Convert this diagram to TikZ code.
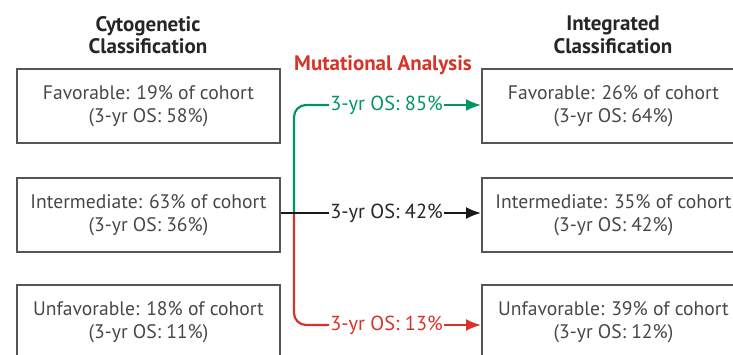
\documentclass[tikz,border=0pt]{standalone}
\usepackage{fontspec}
\setmainfont{PT Sans}
\usetikzlibrary{arrows.meta}
\definecolor{mutgreen}{RGB}{0,150,100}
\definecolor{mutred}{RGB}{214,52,40}
\definecolor{boxgray}{RGB}{85,85,85}
\tikzset{classbox/.style={draw=boxgray,line width=1.8pt,minimum width=263pt,minimum height=74pt,
    inner sep=0pt,align=center,text=black!72,font=\fontsize{19.6}{23}\selectfont},
  oslabel/.style={inner sep=1pt,font=\fontsize{20.3}{22}\selectfont},
  heading/.style={align=center,text=black!85,font=\bfseries\fontsize{21}{22.5}\selectfont},
  branch/.style={line width=2.2pt,rounded corners=12pt},
  tip/.style={-{Latex[length=15pt,width=12pt]}}}

\begin{document}
\begin{tikzpicture}[x=1pt,y=-1pt]
  \clip (0,0) rectangle (733,355);
  \node[heading] (cytohead) at (148,35) {Cytogenetic\\Classification};
  \node[heading] (inthead) at (613,35) {Integrated\\Classification};
  \node[heading,text=mutred] (muthead) at (383,65) {Mutational Analysis};
  % left column
  \node[classbox] (cytofav) at (148.5,106) {Favorable: 19\% of cohort\\(3-yr OS: 58\%)};
  \node[classbox] (cytoint) at (148.5,215) {Intermediate: 63\% of cohort\\(3-yr OS: 36\%)};
  \node[classbox] (cytounf) at (148.5,322) {Unfavorable: 18\% of cohort\\(3-yr OS: 11\%)};
  % right column
  \node[classbox] (intfav) at (613.5,106) {Favorable: 26\% of cohort\\(3-yr OS: 64\%)};
  \node[classbox] (intint) at (613.5,215) {Intermediate: 35\% of cohort\\(3-yr OS: 42\%)};
  \node[classbox] (intunf) at (613.5,322) {Unfavorable: 39\% of cohort\\(3-yr OS: 12\%)};
  \node[oslabel,text=mutgreen] (osfav) at (386.5,105) {3-yr OS: 85\%};
  \node[oslabel,text=black!85] (osint) at (386.5,213) {3-yr OS: 42\%};
  \node[oslabel,text=mutred] (osunf) at (386.5,325) {3-yr OS: 13\%};
  \coordinate (split) at (294,213);
  \draw[branch,mutgreen] (split) |- (osfav.west); \draw[branch,mutred] (split) |- (osunf.west);
  \draw[branch,black!90] (cytoint.east |- split) -- (osint.west);
  \draw[branch,tip,mutgreen] (osfav.east) -- (intfav.west |- osfav);
  \draw[branch,tip,black!90] (osint.east) -- (intint.west |- osint);
  \draw[branch,tip,mutred] (osunf.east) -- (intunf.west |- osunf);
\end{tikzpicture}
\end{document}
